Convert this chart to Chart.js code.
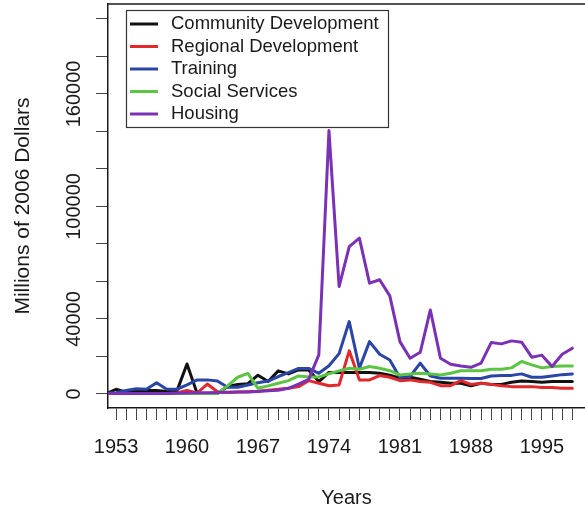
<!DOCTYPE html>
<html>
<head>
<meta charset="utf-8">
<script src="https://cdn.jsdelivr.net/npm/chart.js@4/dist/chart.umd.min.js"></script>
<style>
  html, body { margin: 0; padding: 0; background: #fff; overflow: hidden; }
  canvas { display: block; }
</style>
</head>
<body>
<canvas id="chart" width="585" height="510" style="width:585px;height:510px"></canvas>
<script>
// years of the series; 1952 is only the clipped stub at the left edge
const years = [1952, 1953, 1954, 1955, 1956, 1957, 1958, 1959, 1960, 1961, 1962,
  1963, 1964, 1965, 1966, 1967, 1968, 1969, 1970, 1971, 1972,
  1973, 1974, 1975, 1976, 1977, 1978, 1979, 1980, 1981, 1982,
  1983, 1984, 1985, 1986, 1987, 1988, 1989, 1990, 1991, 1992,
  1993, 1994, 1995, 1996, 1997, 1998];
// tick marks on the x axis, one per year
const xTicks = years.slice(1);

// millions of 2006 dollars
const community = [100, 2500, 900, 1800, 1800, 1800, 1300, 1500, 16000, 300, 200,
  200, 4000, 5000, 5500, 10000, 6600, 12300, 10700, 12800, 12800,
  6600, 11500, 11400, 11400, 11400, 11400, 11000, 10000, 8400, 8900,
  7800, 6600, 6200, 5700, 5700, 4400, 5700, 5100, 5100, 6200,
  6900, 6600, 6200, 6600, 6600, 6600];
const regional = [200, 300, 300, 300, 300, 300, 300, 500, 1900, 500, 5300,
  1200, 800, 1000, 1200, 1500, 2000, 2500, 3000, 3900, 7100,
  5700, 4400, 4800, 23000, 7500, 7500, 9800, 8900, 7100, 7500,
  6600, 6200, 4400, 4400, 7100, 5100, 5700, 5100, 4400, 3900,
  3900, 3900, 3400, 3400, 3000, 3000];
const training = [200, 700, 1800, 2800, 2500, 6000, 2500, 2500, 4800, 7500, 7500,
  6900, 3600, 3600, 4800, 6000, 6900, 9300, 11400, 13600, 13600,
  11000, 15000, 21500, 38600, 13700, 27900, 21200, 18100, 8700, 9300,
  16400, 9600, 8400, 8400, 8400, 8300, 8200, 9600, 9900, 9900,
  10700, 8900, 8900, 9600, 10300, 10700];
const social = [200, 200, 200, 200, 200, 200, 200, 200, 200, 200, 200,
  300, 4300, 8900, 11000, 3000, 4300, 5700, 7100, 9600, 9000,
  9000, 10800, 12300, 13700, 13200, 14600, 13700, 12400, 10100, 10700,
  11000, 10700, 10100, 11000, 12400, 12400, 12400, 13200, 13200, 13900,
  17300, 15500, 13900, 14600, 14900, 14900];
const housing = [200, 300, 300, 300, 300, 300, 300, 400, 500, 600, 700,
  800, 900, 1000, 1100, 1300, 1700, 2000, 3000, 5200, 7800,
  20800, 140500, 57300, 78600, 83100, 59100, 60900, 52300, 27900, 19000,
  22200, 44800, 19000, 15800, 14900, 14200, 16400, 27400, 26700, 28300,
  27600, 19600, 20700, 14600, 21200, 24400];

const seriesNames = ['Community Development', 'Regional Development', 'Training', 'Social Services', 'Housing'];
const seriesValues = [community, regional, training, social, housing];
const seriesColors = ['#111111', '#e3282b', '#2b45a6', '#5cc443', '#7b31b6'];

// y ticks every 20000, only some of them get a label
const yTicks = [0, 20000, 40000, 60000, 80000, 100000, 120000, 140000, 160000, 180000, 200000];
const yLabelled = [0, 40000, 100000, 160000];
// x labels every 7 years
const xLabelled = [1953, 1960, 1967, 1974, 1981, 1988, 1995];

const FONT = "'Liberation Sans', Arial, Helvetica, sans-serif";
const INK = '#1a1a1a';

// plot box top line + legend drawn inside the plot, R style
const legendBox = {
  id: 'legendBox',
  afterDatasetsDraw(chart) {
    const {ctx, chartArea: a} = chart;
    ctx.save();
    ctx.strokeStyle = INK;
    ctx.lineWidth = 1.5;
    ctx.beginPath();
    ctx.moveTo(a.left, a.top);
    ctx.lineTo(a.right, a.top);
    ctx.stroke();

    const x0 = 126, y0 = 10, w = 262, h = 117;
    ctx.fillStyle = '#fff';
    ctx.fillRect(x0, y0, w, h);
    ctx.lineWidth = 1.2;
    ctx.strokeStyle = '#333';
    ctx.strokeRect(x0 + 0.5, y0 + 0.5, w, h);

    ctx.font = '18.5px ' + FONT;
    ctx.textBaseline = 'middle';
    ctx.textAlign = 'left';
    chart.data.datasets.forEach((ds, i) => {
      const y = 24 + i * 22.5;
      ctx.strokeStyle = ds.borderColor;
      ctx.lineWidth = 3;
      ctx.beginPath();
      ctx.moveTo(130, y);
      ctx.lineTo(158, y);
      ctx.stroke();
      ctx.fillStyle = INK;
      ctx.fillText(ds.label, 171, y);
    });
    ctx.restore();
  }
};

new Chart(document.getElementById('chart'), {
  type: 'line',
  data: {
    datasets: seriesNames.map((name, i) => ({
      label: name,
      data: years.map((yr, j) => ({x: yr, y: seriesValues[i][j]})),
      borderColor: seriesColors[i],
      backgroundColor: seriesColors[i],
      borderWidth: 3,
      borderCapStyle: 'round',
      borderJoinStyle: 'round',
      pointRadius: 0,
      tension: 0,
      fill: false,
      order: 5 - i
    }))
  },
  options: {
    responsive: false,
    animation: false,
    devicePixelRatio: 1,
    layout: {padding: {top: 4, left: 0, right: 0, bottom: 0}},
    plugins: {
      legend: {display: false},
      tooltip: {enabled: false}
    },
    scales: {
      x: {
        type: 'linear',
        min: 1952.21,
        max: 1999.25,
        afterBuildTicks: (scale) => { scale.ticks = xTicks.map(v => ({value: v})); },
        afterFit: (scale) => {
          scale.height = 102;
          scale.paddingLeft = 0;
          scale.paddingRight = 0;
        },
        grid: {drawOnChartArea: false, drawTicks: true, tickLength: 12, tickColor: '#444', lineWidth: 1},
        border: {display: true, color: INK, width: 1.5},
        ticks: {
          autoSkip: false,
          maxRotation: 0,
          minRotation: 0,
          padding: 15,
          color: INK,
          font: {family: FONT, size: 20},
          callback: (v) => xLabelled.includes(v) ? String(v) : ''
        },
        title: {
          display: true,
          text: 'Years',
          color: INK,
          font: {family: FONT, size: 20},
          padding: {top: 0, bottom: 0}
        }
      },
      y: {
        type: 'linear',
        min: -7500,
        max: 208000,
        afterBuildTicks: (scale) => { scale.ticks = yTicks.map(v => ({value: v})); },
        afterFit: (scale) => {
          scale.width = 108;
          scale.paddingTop = 0;
          scale.paddingBottom = 0;
        },
        grid: {drawOnChartArea: false, drawTicks: true, tickLength: 12, tickColor: '#444', lineWidth: 1},
        border: {display: true, color: INK, width: 1.5},
        ticks: {
          autoSkip: false,
          minRotation: 90,
          maxRotation: 90,
          crossAlign: 'center',
          padding: -12,
          color: INK,
          font: {family: FONT, size: 20},
          callback: (v) => yLabelled.includes(v) ? String(v) : ''
        },
        title: {
          display: true,
          text: 'Millions of 2006 Dollars',
          color: INK,
          font: {family: FONT, size: 21},
          padding: {top: 11, bottom: 0}
        }
      }
    }
  },
  plugins: [legendBox]
});
</script>
</body>
</html>
